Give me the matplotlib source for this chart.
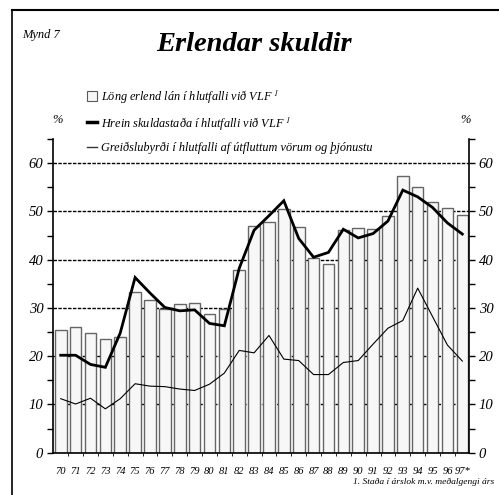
import matplotlib as mpl
import matplotlib.pyplot as plt
from matplotlib.lines import Line2D
from matplotlib.patches import Rectangle

# Data (per cent).
years = ['70', '71', '72', '73', '74', '75', '76', '77', '78', '79', '80',
         '81', '82', '83', '84', '85', '86', '87', '88', '89', '90', '91',
         '92', '93', '94', '95', '96', '97*']
long_loans = [25.4, 26.0, 24.9, 23.5, 23.9, 33.4, 31.6, 29.7, 30.9, 31.1,
              28.7, 29.8, 37.8, 47.0, 47.9, 50.4, 46.7, 40.3, 39.0, 46.1,
              46.5, 46.3, 49.1, 57.3, 55.0, 52.0, 50.7, 49.2]
net_debt = [20.2, 20.2, 18.3, 17.7, 24.8, 36.3, 33.1, 30.1, 29.4, 29.6,
            26.8, 26.3, 38.2, 46.1, 49.1, 52.2, 44.4, 40.5, 41.5, 46.3,
            44.5, 45.4, 48.0, 54.4, 53.0, 50.8, 47.6, 45.3]
debt_service = [11.2, 10.1, 11.3, 9.1, 11.2, 14.3, 13.8, 13.7, 13.2, 12.9,
                14.2, 16.5, 21.2, 20.7, 24.3, 19.4, 19.1, 16.2, 16.2, 18.7,
                19.1, 22.5, 25.8, 27.4, 34.1, 28.2, 22.3, 19.0]
y_ticks = [0, 10, 20, 30, 40, 50, 60]

labels = [r'Löng erlend lán í hlutfalli við VLF $^{\mathit{1}}$',
          r'Hrein skuldastaða í hlutfalli við VLF $^{\mathit{1}}$',
          'Greiðslubyrði í hlutfalli af útfluttum vörum og þjónustu']

plt.rcParams['font.family'] = ['Liberation Serif', 'DejaVu Serif']
plt.rcParams['font.style'] = 'italic'
plt.rcParams['mathtext.fontset'] = 'stix'

fig = plt.figure(figsize=(4.99, 4.95), dpi=100)
ax = fig.add_axes([0.1062, 0.0853, 0.8337, 0.634])

x = list(range(len(years)))
ax.bar(x, long_loans, width=0.78, facecolor='#f7f7f7', edgecolor='#666666',
       linewidth=1.0, zorder=2)
ax.plot(x, net_debt, color='black', linewidth=2.0, zorder=4,
        solid_joinstyle='miter')
ax.plot(x, debt_service, color='black', linewidth=0.8, zorder=3)

ax.set_xlim(-0.52, len(years) - 0.55)
ax.set_ylim(0, 65)
ax.set_axisbelow(True)

# Y axis: both sides, outward ticks.
ax.yaxis.set_major_locator(mpl.ticker.FixedLocator(y_ticks))
ax.yaxis.set_minor_locator(mpl.ticker.MultipleLocator(5))
ax.tick_params(axis='y', which='major', direction='out', length=4, width=1,
               left=True, right=True, labelleft=True, labelright=True,
               labelsize=10.5, pad=3)
ax.tick_params(axis='y', which='minor', direction='out', length=4, width=1,
               left=True, right=True)
ax.yaxis.grid(True, which='major', color='black', linewidth=1.0,
              linestyle=(0, (2.5, 1)))

# X axis: labels at bar centres, small ticks at boundaries.
ax.set_xticks(x)
ax.set_xticklabels(years)
ax.xaxis.set_minor_locator(mpl.ticker.FixedLocator([i + 0.5 for i in x]))
ax.tick_params(axis='x', which='major', length=0, labelsize=7.6, pad=10)
ax.tick_params(axis='x', which='minor', direction='out', length=2, width=0.6)

for side in ['left', 'right', 'bottom']:
    ax.spines[side].set_linewidth(1.2)
ax.spines['top'].set_visible(False)

# Legend
handles = [Rectangle((0, 0), 1, 1, facecolor='#f7f7f7', edgecolor='#5a5a5a',
                     linewidth=0.8),
           Line2D([], [], color='black', linewidth=2.5),
           Line2D([], [], color='#333333', linewidth=1.0)]
leg = fig.legend(handles, labels, loc='upper left',
                 bbox_to_anchor=(0.163, 0.834), frameon=False,
                 fontsize=8.8, handlelength=0.8, handleheight=0.9,
                 handletextpad=0.3, labelspacing=0.8, borderpad=0)

# Texts
fig.text(0.51, 0.91, 'Erlendar skuldir', ha='center', va='center',
         fontsize=20.5, fontweight='bold')
fig.text(0.044, 0.93, 'Mynd 7', ha='left', va='center', fontsize=9)
fig.text(0.115, 0.757, '%', ha='center', va='center', fontsize=9)
fig.text(0.932, 0.757, '%', ha='center', va='center', fontsize=9)
fig.text(0.99, 0.026, '1. Staða í árslok m.v. meðalgengi árs', ha='right',
         va='center', fontsize=6.8)

# Frame lines of the page.
fig.add_artist(Line2D([0.024, 1.0], [0.98, 0.98], color='black',
                      linewidth=1.5, transform=fig.transFigure))
fig.add_artist(Line2D([0.024, 0.024], [0.0, 0.98], color='black',
                      linewidth=1.2, transform=fig.transFigure))

plt.savefig('out.png', dpi=100)
